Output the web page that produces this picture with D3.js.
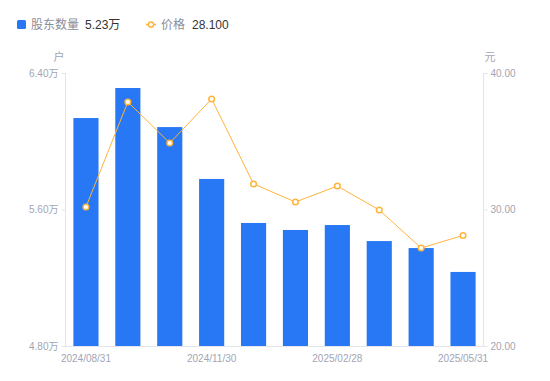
<!DOCTYPE html>
<html>
<head>
<meta charset="utf-8">
<script src="https://cdn.jsdelivr.net/npm/d3@7"></script>
<style>
  html, body { margin: 0; padding: 0; background: #fff; }
  #chart { width: 550px; height: 381px; }
  text { font-family: "Liberation Sans", "Noto Sans CJK SC", sans-serif; }
</style>
</head>
<body>
<div id="chart"></div>
<script>
const dates = ['2024/08/31', '2024/09/30', '2024/10/31', '2024/11/30', '2024/12/31',
               '2025/01/31', '2025/02/28', '2025/03/31', '2025/04/30', '2025/05/31'];
// 股东数量 (万户)
const holders = [6.136, 6.312, 6.083, 5.779, 5.521, 5.480, 5.509, 5.415, 5.374, 5.234];
// 价格 (元)
const prices = [30.18, 37.88, 34.87, 38.10, 31.87, 30.55, 31.72, 29.96, 27.18, 28.10];
const leftTicks = [4.8, 5.6, 6.4];
const rightTicks = [20, 30, 40];
const shownDates = ['2024/08/31', '2024/11/30', '2025/02/28', '2025/05/31'];

const barColor = '#2878f5';
const lineColor = '#ffb43c';
const axisText = '#a1a5b3';
const axisLine = '#e3e5ea';

const svg = d3.select('#chart').append('svg')
    .attr('width', 550)
    .attr('height', 381);

const plot = { left: 65, right: 484, top: 73, bottom: 346 };

const x = d3.scaleBand().domain(dates).range([plot.left, plot.right]).paddingInner(0.4).paddingOuter(0.2);
const yL = d3.scaleLinear().domain([4.8, 6.4]).range([plot.bottom, plot.top]);
const yR = d3.scaleLinear().domain([20, 40]).range([plot.bottom, plot.top]);

// bottom axis line
svg.append('line')
    .attr('x1', plot.left).attr('x2', plot.right)
    .attr('y1', plot.bottom + 0.5).attr('y2', plot.bottom + 0.5)
    .attr('stroke', axisLine);

// left axis
const gL = svg.append('g')
    .attr('transform', `translate(${plot.left + 0.5},0)`)
    .call(d3.axisLeft(yL).tickValues(leftTicks).tickSize(4).tickPadding(3)
        .tickFormat(d => d3.format('.2f')(d) + '万'));

// right axis
const gR = svg.append('g')
    .attr('transform', `translate(${plot.right - 0.5},0)`)
    .call(d3.axisRight(yR).tickValues(rightTicks).tickSize(4).tickPadding(3)
        .tickFormat(d3.format('.2f')));

[gL, gR].forEach(g => {
    g.select('.domain').attr('stroke', axisLine).attr('d', `M0,${plot.top}V${plot.bottom}`);
    g.selectAll('.tick line').attr('stroke', axisLine);
    g.selectAll('.tick text').attr('fill', axisText).style('font-size', '10px');
});

// unit labels
svg.append('text').attr('x', 59).attr('y', 61).attr('text-anchor', 'middle')
    .attr('fill', axisText).style('font-size', '11px').text('户');
svg.append('text').attr('x', 490).attr('y', 61).attr('text-anchor', 'middle')
    .attr('fill', axisText).style('font-size', '11px').text('元');

// x labels
svg.append('g').selectAll('text')
    .data(shownDates)
    .join('text')
    .attr('x', d => x(d) + x.bandwidth() / 2)
    .attr('y', 362)
    .attr('text-anchor', 'middle')
    .attr('fill', axisText)
    .style('font-size', '10px')
    .text(d => d);

// bars
svg.append('g').selectAll('rect')
    .data(holders)
    .join('rect')
    .attr('x', (d, i) => x(dates[i]))
    .attr('y', d => yL(d))
    .attr('width', x.bandwidth())
    .attr('height', d => plot.bottom - yL(d))
    .attr('fill', barColor);

// price line
const line = d3.line()
    .x((d, i) => x(dates[i]) + x.bandwidth() / 2)
    .y(d => yR(d));

svg.append('path')
    .datum(prices)
    .attr('d', line)
    .attr('fill', 'none')
    .attr('stroke', lineColor)
    .attr('stroke-width', 1);

svg.append('g').selectAll('circle')
    .data(prices)
    .join('circle')
    .attr('cx', (d, i) => x(dates[i]) + x.bandwidth() / 2)
    .attr('cy', d => yR(d))
    .attr('r', 2.8)
    .attr('fill', '#fff')
    .attr('stroke', lineColor)
    .attr('stroke-width', 1.5);

// legend
const lg = svg.append('g');
lg.append('rect').attr('x', 17).attr('y', 20).attr('width', 9).attr('height', 9)
    .attr('rx', 1.5).attr('fill', barColor);
lg.append('text').attr('x', 31).attr('y', 29).attr('fill', '#8a8e99')
    .style('font-size', '12px').text('股东数量');
lg.append('text').attr('x', 85).attr('y', 29).attr('fill', '#333')
    .style('font-size', '12px').text(d3.format('.2f')(holders[holders.length - 1]) + '万');

lg.append('line').attr('x1', 146).attr('x2', 156).attr('y1', 24.5).attr('y2', 24.5)
    .attr('stroke', lineColor).attr('stroke-width', 1.5);
lg.append('circle').attr('cx', 151).attr('cy', 24.5).attr('r', 2.6)
    .attr('fill', '#fff').attr('stroke', lineColor).attr('stroke-width', 1.5);
lg.append('text').attr('x', 161).attr('y', 29).attr('fill', '#8a8e99')
    .style('font-size', '12px').text('价格');
lg.append('text').attr('x', 192).attr('y', 29).attr('fill', '#333')
    .style('font-size', '12px').text(d3.format('.3f')(prices[prices.length - 1]));
</script>
</body>
</html>
